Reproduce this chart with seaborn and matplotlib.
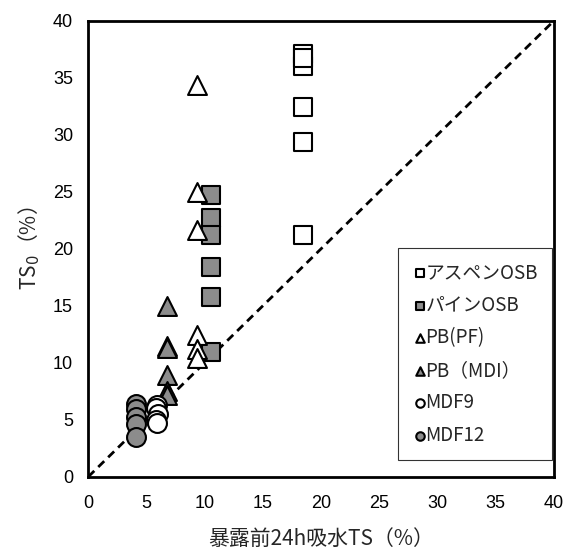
import matplotlib
matplotlib.use("Agg")
import matplotlib.pyplot as plt
import seaborn as sns
import pandas as pd

# ---- data ----
aspen_x = [18.4, 18.4, 18.4, 18.4, 18.4, 18.4]
aspen_y = [37.1, 36.0, 36.7, 32.4, 29.4, 21.2]

pine_x = [10.5, 10.5, 10.5, 10.5, 10.5, 10.5]
pine_y = [24.7, 22.7, 21.2, 18.4, 15.8, 10.9]

pbpf_x = [9.3, 9.3, 9.3, 9.3, 9.3, 9.3]
pbpf_y = [34.4, 25.0, 21.6, 12.4, 11.2, 10.4]

pbmdi_x = [6.8, 6.8, 6.8, 6.8, 6.8, 6.8]
pbmdi_y = [15.0, 11.5, 11.3, 8.9, 7.5, 7.2]

mdf9_x = [5.9, 5.8, 6.0, 5.8, 5.9]
mdf9_y = [6.3, 6.0, 5.5, 5.0, 4.7]

mdf12_x = [4.1, 4.1, 4.1, 4.1, 4.1]
mdf12_y = [6.4, 5.9, 5.2, 4.6, 3.5]

labels = ["アスペンOSB", "パインOSB", "PB(PF)", "PB（MDI）", "MDF9", "MDF12"]
ticks = [0, 5, 10, 15, 20, 25, 30, 35, 40]

sns.set_theme(style="white")
plt.rcParams["font.family"] = ["Liberation Sans", "Noto Sans CJK JP", "DejaVu Sans"]

fig = plt.figure(figsize=(5.68, 5.56), dpi=100)
ax = fig.add_axes([0.1555, 0.1426, 0.8199, 0.8202])

GRAY = "#8c8c8c"
series = [
    (aspen_x, aspen_y, "s", "white"),
    (pine_x, pine_y, "s", GRAY),
    (pbpf_x, pbpf_y, "^", "white"),
    (pbmdi_x, pbmdi_y, "^", GRAY),
    (mdf9_x, mdf9_y, "o", "white"),
    (mdf12_x, mdf12_y, "o", GRAY),
]

# diagonal 1:1 line
diag = pd.DataFrame({"x": [0, 40], "y": [0, 40]})
sns.lineplot(data=diag, x="x", y="y", ax=ax, color="black", lw=2.0,
             linestyle=(0, (3, 2)), zorder=1, legend=False)

for (xs, ys, m, fc), lab in zip(series, labels):
    df = pd.DataFrame({"x": xs, "y": ys})
    sns.scatterplot(data=df, x="x", y="y", ax=ax, marker=m, s=185,
                    color=fc, edgecolor="black", linewidth=1.5,
                    label=lab, zorder=3)

ax.set_xlim(0, 40)
ax.set_ylim(0, 40)
ax.set_xticks(ticks)
ax.set_yticks(ticks)
ax.tick_params(axis="both", direction="in", length=5, width=1.5,
               labelsize=13, colors="black")
ax.tick_params(axis="x", pad=13)
ax.tick_params(axis="y", pad=11)
for sp in ax.spines.values():
    sp.set_color("black")
    sp.set_linewidth(2.0)

ax.set_xlabel("暴露前24h吸水TS（%）", fontsize=15, labelpad=12,
              family=["Noto Sans CJK JP", "DejaVu Sans"])
ax.set_ylabel("TS$_0$（%）", fontsize=15, labelpad=8,
              family="Noto Sans CJK JP")

leg = ax.legend(loc="upper right", bbox_to_anchor=(0.996, 0.502),
                markerscale=0.45, handletextpad=-0.1, handlelength=0.8,
                labelspacing=0.62, borderpad=0.75, fontsize=13.5,
                frameon=True, fancybox=False, edgecolor="black",
                borderaxespad=0.0)
leg.get_frame().set_linewidth(0.8)
for t in leg.get_texts():
    t.set_family(["Noto Sans CJK JP", "DejaVu Sans"])

fig.savefig("out.png", dpi=100)
